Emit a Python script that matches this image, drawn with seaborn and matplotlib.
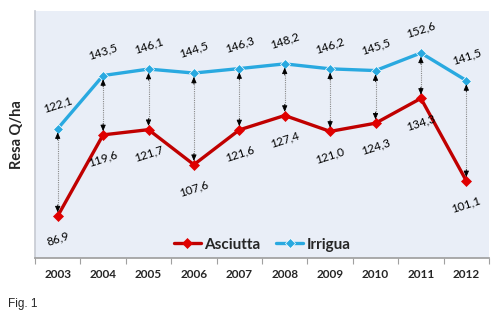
import matplotlib
matplotlib.use("Agg")
import matplotlib.pyplot as plt
import seaborn as sns
import pandas as pd
import numpy as np

years = ["2003", "2004", "2005", "2006", "2007", "2008", "2009", "2010", "2011", "2012"]
asciutta = [86.9, 119.6, 121.7, 107.6, 121.6, 127.4, 121.0, 124.3, 134.3, 101.1]
irrigua = [122.1, 143.5, 146.1, 144.5, 146.3, 148.2, 146.2, 145.5, 152.6, 141.5]

sns.set_theme(style="white")
plt.rcParams['font.family'] = ['Lato', 'DejaVu Sans']

idx = list(range(len(years)))
df = pd.DataFrame({
    "pos": idx * 2,
    "val": asciutta + irrigua,
    "serie": ["Asciutta"] * len(years) + ["Irrigua"] * len(years),
})

fig = plt.figure(figsize=(5.0, 3.28), dpi=100)
ax = fig.add_axes([0.07, 0.2134, 0.908, 0.7531])
ax.set_facecolor("#E9EEF7")

pal = {"Asciutta": "#C00000", "Irrigua": "#29A9E0"}
sns.lineplot(data=df, x="pos", y="val", hue="serie", palette=pal, ax=ax,
             marker="D", markersize=5.5, linewidth=2.4, markeredgewidth=0.5,
             legend=True)
for line in ax.lines:
    if line.get_color() == "#C00000":
        line.set_markerfacecolor("#E00000")
        line.set_markeredgecolor("#E00000")

# dotted connectors with small black arrowheads
ax.vlines(idx, asciutta, irrigua, colors="#8A8A8A", linestyles=(0, (1, 1)), linewidth=0.8, zorder=1)
for i in idx:
    ax.annotate("", xy=(i, irrigua[i] - 1.5), xytext=(i, irrigua[i] - 4.5),
                arrowprops=dict(arrowstyle="-|>,head_length=0.3,head_width=0.13",
                                color="black", linewidth=0.6, shrinkA=0, shrinkB=0), zorder=2)
    ax.annotate("", xy=(i, asciutta[i] + 1.5), xytext=(i, asciutta[i] + 4.5),
                arrowprops=dict(arrowstyle="-|>,head_length=0.3,head_width=0.13",
                                color="black", linewidth=0.6, shrinkA=0, shrinkB=0), zorder=2)

fmt = lambda v: f"{v:.1f}".replace(".", ",")
for i in idx:
    ax.annotate(fmt(irrigua[i]), (i, irrigua[i]), xytext=(0, 10), textcoords="offset points",
                ha="center", va="bottom", fontsize=8.5, rotation=18, color="black")
    ax.annotate(fmt(asciutta[i]), (i, asciutta[i]), xytext=(0, -10), textcoords="offset points",
                ha="center", va="top", fontsize=8.5, rotation=18, color="black")

ax.set_xlim(-0.5, len(years) - 0.5)
ax.set_ylim(70, 169.5)
ax.set_yticks([])
ax.set_xticks([i - 0.5 for i in range(len(years) + 1)])
ax.set_xticklabels([])
ax.set_xticks(idx, minor=True)
ax.set_xticklabels(years, minor=True, fontsize=8.5, fontweight="bold")
ax.tick_params(axis="x", which="major", length=4, width=0.8, color="#A0A0A0", direction="out", bottom=True)
ax.tick_params(axis="x", which="minor", length=0, pad=8, bottom=True)
ax.set_xlabel("")
ax.set_ylabel("Resa Q/ha", fontsize=10.5, fontweight="bold", labelpad=8)

for s in ["top", "right"]:
    ax.spines[s].set_visible(False)
ax.spines["left"].set_color("#C8CCD4")
ax.spines["bottom"].set_color("#A0A0A0")

leg = ax.legend(loc="lower center", bbox_to_anchor=(0.5, -0.03), ncol=2, frameon=False,
                prop={"weight": "bold", "size": 11}, handlelength=1.8, handletextpad=0.2,
                columnspacing=1.0)

fig.text(0.016, 0.065, "Fig. 1", fontsize=8.5, family=["Liberation Sans", "DejaVu Sans"])

fig.savefig("out.png", dpi=100)
